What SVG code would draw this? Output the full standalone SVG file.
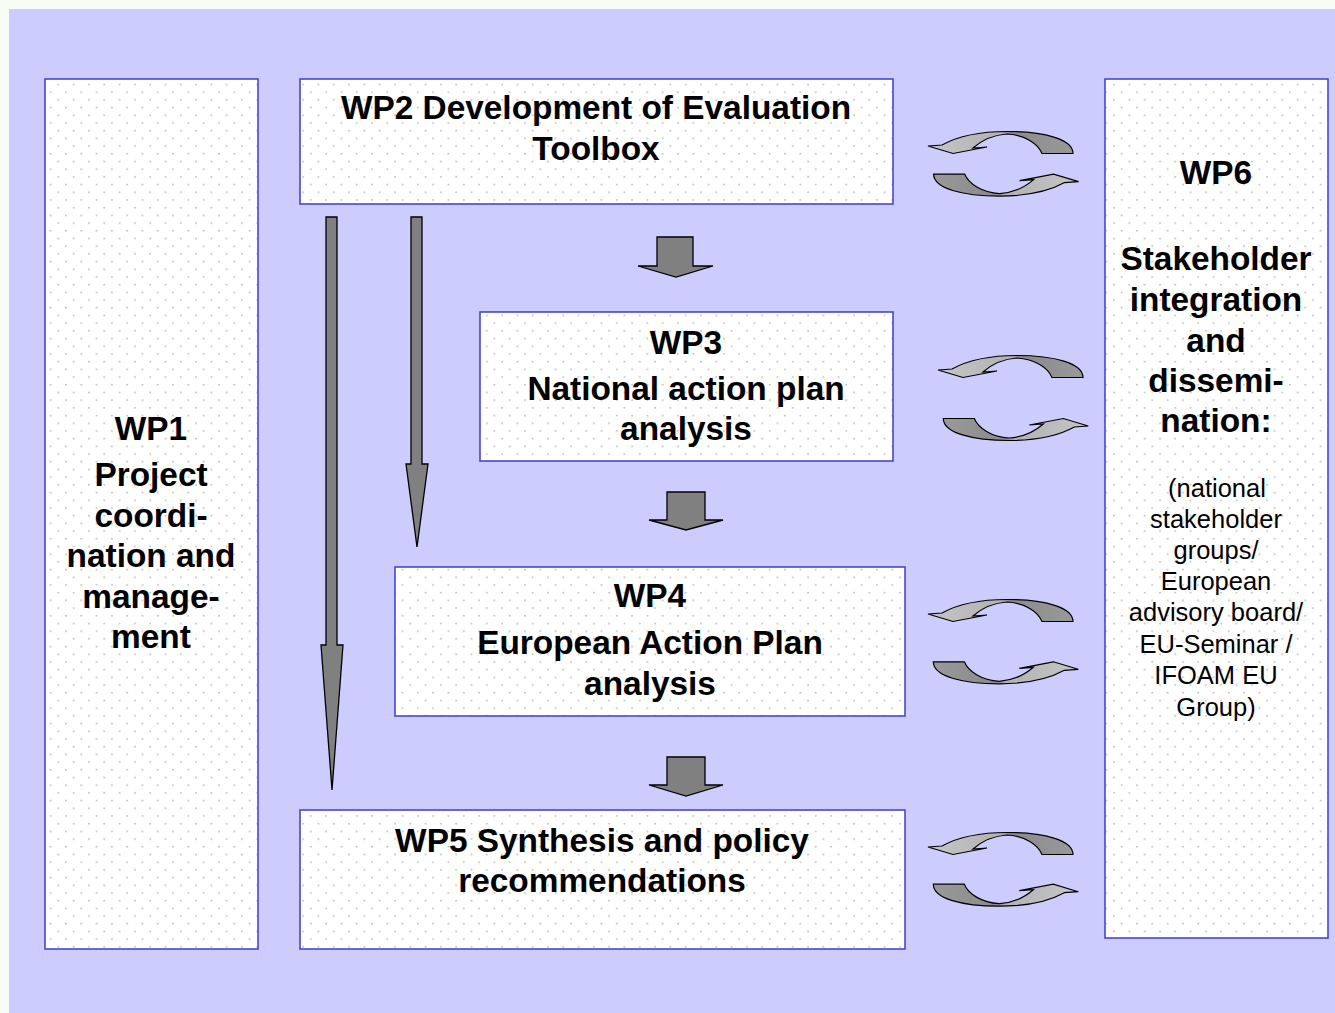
<svg xmlns="http://www.w3.org/2000/svg" width="1335" height="1013" viewBox="0 0 1335 1013">
<defs>
<style>
.box{fill:url(#dots);stroke:#4646d2;stroke-width:1.6}
.bt{font-family:"Liberation Sans",Arial,sans-serif;font-weight:bold;font-size:33.4px;fill:#000;text-anchor:middle}
.rt{font-family:"Liberation Sans",Arial,sans-serif;font-size:25.5px;fill:#000;text-anchor:middle}
.ga{fill:#808080;stroke:#000;stroke-width:1.3;stroke-linejoin:miter}
.ca{fill:url(#cg);stroke:#000;stroke-width:1.2}
</style>
<pattern id="dots" patternUnits="userSpaceOnUse" x="0" y="0" width="15.3" height="15.4">
<rect width="15.3" height="15.4" fill="#fff"/>
<circle cx="12.5" cy="7.5" r="0.95" fill="#c0c0c0"/>
<circle cx="4.8" cy="15.2" r="0.95" fill="#c0c0c0"/>
<circle cx="4.8" cy="-0.2" r="0.95" fill="#c0c0c0"/>
</pattern>
<linearGradient id="cg" x1="0" y1="0" x2="1" y2="0">
<stop offset="0" stop-color="#c6c6c6"/>
<stop offset="0.5" stop-color="#b2b2b2"/>
<stop offset="0.56" stop-color="#8a8a8a"/>
<stop offset="1" stop-color="#999"/>
</linearGradient>
<path id="carr" class="ca" d="M 14,14 C 32,4 58,0.5 79,0.5 C 116,0.5 145,8 145,22.5 L 114,22.5 C 110,13 97,4 79,3 C 64,4 53,10 45,17 L 59,16 L 25,22.5 L 0,15 Z"/>
</defs>
<rect width="1335" height="1013" fill="#f7fcf5"/>
<rect x="9" y="9" width="1326" height="1004" fill="#ccccff"/>

<g id="wp1">
<rect class="box" x="45" y="79" width="213" height="870"/>
<text class="bt" x="151"><tspan x="151" y="440">WP1</tspan><tspan x="151" y="486">Project</tspan><tspan x="151" y="527">coordi-</tspan><tspan x="151" y="567">nation and</tspan><tspan x="151" y="608">manage-</tspan><tspan x="151" y="648">ment</tspan></text>
</g>
<g id="wp2">
<rect class="box" x="300" y="79" width="593" height="125"/>
<text class="bt"><tspan x="596" y="119">WP2 Development of Evaluation</tspan><tspan x="596" y="160">Toolbox</tspan></text>
</g>
<g id="wp3">
<rect class="box" x="480" y="312" width="413" height="149"/>
<text class="bt"><tspan x="686" y="354">WP3</tspan><tspan x="686" y="400">National action plan</tspan><tspan x="686" y="440">analysis</tspan></text>
</g>
<g id="wp4">
<rect class="box" x="395" y="567" width="510" height="149"/>
<text class="bt"><tspan x="650" y="607">WP4</tspan><tspan x="650" y="654">European Action Plan</tspan><tspan x="650" y="695">analysis</tspan></text>
</g>
<g id="wp5">
<rect class="box" x="300" y="810" width="605" height="139"/>
<text class="bt"><tspan x="602" y="852">WP5 Synthesis and policy</tspan><tspan x="602" y="892">recommendations</tspan></text>
</g>
<g id="wp6">
<rect class="box" x="1105" y="79" width="223" height="859"/>
<text class="bt"><tspan x="1216" y="184">WP6</tspan><tspan x="1216" y="270">Stakeholder</tspan><tspan x="1216" y="311">integration</tspan><tspan x="1216" y="352">and</tspan><tspan x="1216" y="392">dissemi-</tspan><tspan x="1216" y="432">nation:</tspan></text>
<text class="rt"><tspan x="1217" y="497">(national</tspan><tspan x="1216" y="528">stakeholder</tspan><tspan x="1216" y="559">groups/</tspan><tspan x="1216" y="590">European</tspan><tspan x="1216" y="621">advisory board/</tspan><tspan x="1216" y="653">EU-Seminar /</tspan><tspan x="1216" y="684">IFOAM EU</tspan><tspan x="1216" y="716">Group)</tspan></text>
</g>

<g id="connectors">
<path class="ga" d="M326,217 H337 V645 H343 L332,790 L321,645 H326 Z"/>
<path class="ga" d="M411,217 H422 V464 H428 L417,547 L406,464 H411 Z"/>
<path class="ga" d="M657,237 H693 V266 H713 L676,277 L638,266 H657 Z"/>
<path class="ga" d="M667,492 H705 V520 H723 L686,530 L649,520 H667 Z"/>
<path class="ga" d="M667,757 H705 V785 H723 L686,796 L649,785 H667 Z"/>

<use href="#carr" transform="translate(928,131)"/>
<use href="#carr" transform="translate(1078.6,196.6) rotate(180)"/>
<use href="#carr" transform="translate(938,355)"/>
<use href="#carr" transform="translate(1088.3,441) rotate(180)"/>
<use href="#carr" transform="translate(928,599)"/>
<use href="#carr" transform="translate(1078.3,684.3) rotate(180)"/>
<use href="#carr" transform="translate(928,832)"/>
<use href="#carr" transform="translate(1078.3,906.7) rotate(180)"/>
</g>
</svg>
